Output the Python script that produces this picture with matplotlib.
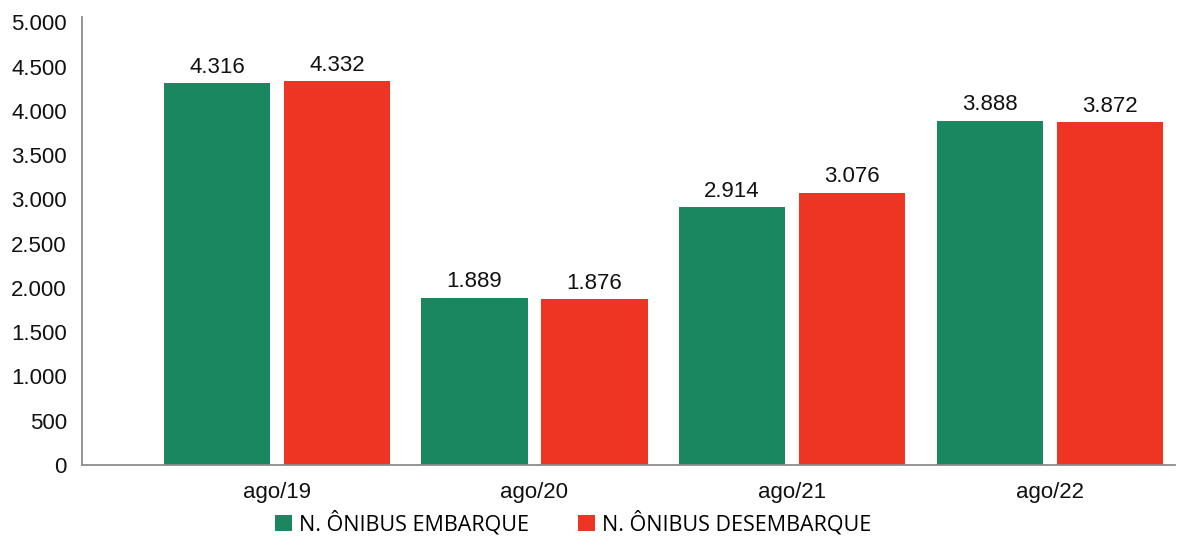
import matplotlib
matplotlib.use("Agg")
import matplotlib.pyplot as plt
import numpy as np
from matplotlib.patches import Patch

categories = ["ago/19", "ago/20", "ago/21", "ago/22"]
embarque = [4316, 1889, 2914, 3888]
desembarque = [4332, 1876, 3076, 3872]
series_names = ["N. ÔNIBUS EMBARQUE", "N. ÔNIBUS DESEMBARQUE"]
yticks = [0, 500, 1000, 1500, 2000, 2500, 3000, 3500, 4000, 4500, 5000]

green = "#1a8760"
red = "#ee3524"

def fmt(v):
    return f"{v:,}".replace(",", ".")

fig = plt.figure(figsize=(11.87, 5.36), dpi=100)
ax = fig.add_axes([82/1187, (536-465)/536, (1175-82)/1187, (465-17)/536])
plt.rcParams['font.family'] = ['Liberation Sans', 'DejaVu Sans']

x = np.arange(len(categories))
w = 0.412
off = 0.233
b1 = ax.bar(x - off, embarque, w, color=green)
b2 = ax.bar(x + off, desembarque, w, color=red)

for bars, vals in ((b1, embarque), (b2, desembarque)):
    for b, v in zip(bars, vals):
        ax.text(b.get_x() + b.get_width()/2, v + 60, fmt(v), ha="center", va="bottom",
                fontsize=16, family="Liberation Sans", color="#111111")

ax.set_xlim(-0.757, 3.487)
ax.set_ylim(0, 5060)
ax.set_yticks(yticks)
ax.set_yticklabels([fmt(v) for v in yticks], family="Liberation Sans", fontsize=16, color="#111111")
ax.set_xticks(x)
ax.set_xticklabels(categories, family="Liberation Sans", fontsize=16, color="#111111")
ax.tick_params(axis="both", length=0)
ax.tick_params(axis="y", pad=11)
ax.tick_params(axis="x", pad=12)
for s in ["top", "right"]:
    ax.spines[s].set_visible(False)
for s in ["left", "bottom"]:
    ax.spines[s].set_color("#8c8c8c")
    ax.spines[s].set_linewidth(1.3)

handles = [Patch(facecolor=green, edgecolor="none"), Patch(facecolor=red, edgecolor="none")]
fig.legend(handles, series_names, loc="center", bbox_to_anchor=(573/1187, 1 - 523.5/536),
           ncol=2, frameon=False, handlelength=0.8, handleheight=0.75, handletextpad=0.32,
           columnspacing=2.25, borderpad=0.1, prop={"family": "Open Sans", "size": 15.5})

fig.savefig("out.png", dpi=100)
